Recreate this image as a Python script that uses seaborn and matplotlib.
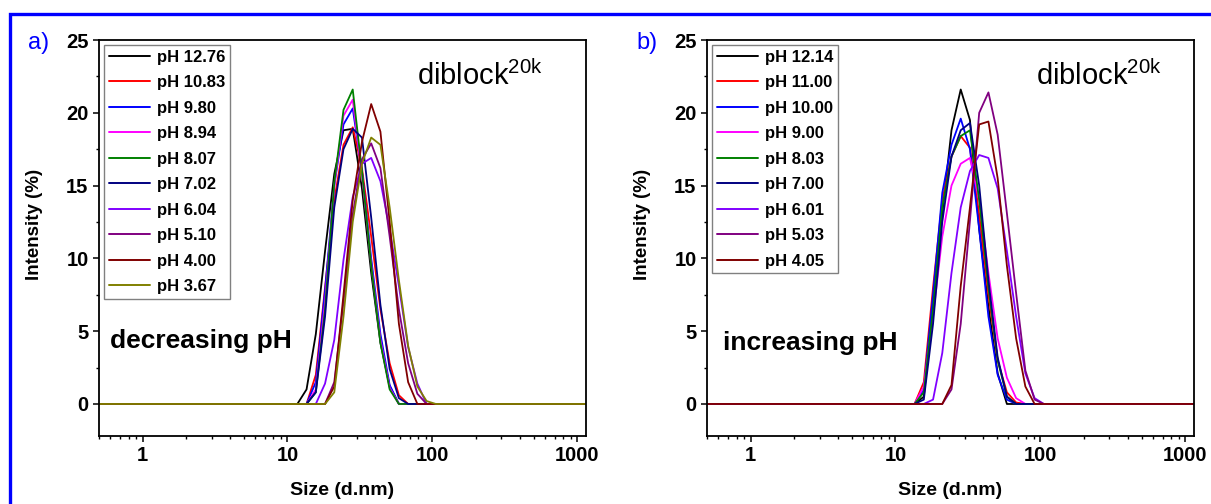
import numpy as np
import pandas as pd
import matplotlib
matplotlib.use("Agg")
import matplotlib.pyplot as plt
import seaborn as sns
from matplotlib.patches import Rectangle
from matplotlib.ticker import FixedLocator, MultipleLocator, NullFormatter

sns.set_theme(style="white")
plt.rcParams["font.family"] = ["Liberation Sans", "DejaVu Sans"]
plt.rcParams["mathtext.fontset"] = "custom"
plt.rcParams["mathtext.rm"] = "Liberation Sans"
plt.rcParams["mathtext.default"] = "regular"
for key in ["text.color", "axes.labelcolor", "xtick.color", "ytick.color",
            "axes.edgecolor"]:
    plt.rcParams[key] = "black"

# Zetasizer size classes (d.nm)
size_bins = [0.4000, 0.4632, 0.5365, 0.6213, 0.7195, 0.8332, 0.9649, 1.117, 1.294,
             1.499, 1.736, 2.010, 2.328, 2.696, 3.122, 3.615, 4.187, 4.849, 5.615,
             6.503, 7.531, 8.721, 10.10, 11.70, 13.54, 15.69, 18.17, 21.04, 24.36,
             28.21, 32.67, 37.84, 43.82, 50.75, 58.77, 68.06, 78.82, 91.28, 105.7,
             122.4, 141.8, 164.2, 190.1, 220.2, 255.0, 295.3, 342.0, 396.1, 458.7,
             531.2, 615.1, 712.4, 825.0, 955.4, 1106, 1281, 1484]
# intensities are listed for classes 11.70 ... 105.7; all other classes are 0
peak_start = 11.70

# a) decreasing pH
ph_a = ["pH 12.76", "pH 10.83", "pH 9.80", "pH 8.94", "pH 8.07",
        "pH 7.02", "pH 6.04", "pH 5.10", "pH 4.00", "pH 3.67"]
a_1276 = [0, 1.0, 4.8, 10.5, 15.8, 18.8, 18.9, 14.8, 9.0, 4.2, 1.2, 0, 0, 0, 0, 0]
a_1083 = [0, 0, 2.0, 8.0, 14.0, 17.8, 19.0, 16.2, 11.5, 6.5, 2.8, 0.6, 0, 0, 0, 0]
a_980 = [0, 0, 1.5, 7.8, 15.0, 19.2, 20.3, 16.0, 10.0, 4.8, 1.3, 0, 0, 0, 0, 0]
a_894 = [0, 0, 1.0, 7.0, 15.0, 19.8, 20.9, 15.8, 9.6, 4.4, 1.1, 0, 0, 0, 0, 0]
a_807 = [0, 0, 0.8, 6.5, 15.2, 20.2, 21.6, 16.0, 9.5, 4.2, 1.0, 0, 0, 0, 0, 0]
a_702 = [0, 0, 0.8, 6.0, 13.5, 17.5, 18.9, 18.3, 12.8, 6.8, 2.4, 0.4, 0, 0, 0, 0]
a_604 = [0, 0, 0, 1.4, 4.4, 9.9, 14.2, 16.5, 16.9, 15.3, 12.0, 8.1, 3.9, 1.4, 0, 0]
a_510 = [0, 0, 0, 0, 1.5, 7.0, 13.0, 16.8, 17.9, 16.2, 11.5, 6.5, 2.8, 0.7, 0, 0]
a_400 = [0, 0, 0, 0, 1.2, 7.5, 14.0, 18.0, 20.6, 18.7, 12.5, 5.5, 1.5, 0, 0, 0]
a_367 = [0, 0, 0, 0, 0.8, 6.0, 12.5, 16.5, 18.3, 17.8, 13.5, 8.5, 4.0, 1.2, 0.2, 0]

# b) increasing pH
ph_b = ["pH 12.14", "pH 11.00", "pH 10.00", "pH 9.00", "pH 8.03",
        "pH 7.00", "pH 6.01", "pH 5.03", "pH 4.05"]
b_1214 = [0, 0, 0.5, 6.7, 13.1, 18.8, 21.6, 19.5, 12.0, 6.7, 2.1, 0, 0, 0, 0, 0]
b_1100 = [0, 0, 1.5, 8.0, 14.0, 17.0, 18.4, 17.6, 13.0, 7.5, 3.0, 0.8, 0.1, 0, 0, 0]
b_1000 = [0, 0, 1.0, 7.5, 14.5, 17.8, 19.6, 17.5, 12.0, 6.0, 2.0, 0.3, 0, 0, 0, 0]
b_900 = [0, 0, 1.2, 6.0, 11.5, 15.0, 16.5, 16.9, 14.0, 9.0, 4.5, 1.8, 0.4, 0, 0, 0]
b_803 = [0, 0, 0.8, 6.5, 13.5, 17.0, 18.4, 18.8, 14.0, 8.0, 3.0, 0.5, 0, 0, 0, 0]
b_700 = [0, 0, 0.3, 5.5, 12.5, 17.0, 18.8, 19.3, 15.0, 8.5, 3.2, 0.5, 0, 0, 0, 0]
b_601 = [0, 0, 0, 0.3, 3.5, 9.0, 13.5, 16.0, 17.1, 16.9, 14.8, 10.5, 6.0, 2.1, 0.4, 0]
b_503 = [0, 0, 0, 0, 0, 1.0, 5.5, 12.6, 20.0, 21.4, 18.5, 13.1, 7.6, 2.3, 0.3, 0]
b_405 = [0, 0, 0, 0, 0, 1.3, 8.1, 13.5, 19.2, 19.4, 15.5, 9.5, 4.5, 1.2, 0, 0]

colors = ["#000000", "#ff0000", "#0000ff", "#ff00ff", "#008000",
          "#000080", "#8000ff", "#800080", "#800000", "#808000"]

ticks_x = [1, 10, 100, 1000]
ticks_y = [0, 5, 10, 15, 20, 25]


def full_curve(window):
    vals = np.zeros(len(size_bins))
    i0 = size_bins.index(peak_start)
    vals[i0:i0 + len(window)] = window
    return vals


def long_table(labels, series):
    frames = []
    for lab, ser in zip(labels, series):
        frames.append(pd.DataFrame({"size": size_bins,
                                    "intensity": full_curve(ser),
                                    "sample": lab}))
    return pd.concat(frames, ignore_index=True)


def draw_panel(ax, labels, series, note, xtag):
    df = long_table(labels, series)
    sns.lineplot(data=df, x="size", y="intensity", hue="sample",
                 palette=colors[:len(labels)], hue_order=labels,
                 estimator=None, sort=False, lw=1.3, ax=ax)
    ax.set_xscale("log")
    ax.set_xlim(0.5, 1150)
    ax.set_ylim(-2.2, 25)
    ax.xaxis.set_major_locator(FixedLocator(ticks_x))
    ax.set_xticklabels([str(t) for t in ticks_x])
    minors = [m * 10.0 ** e for e in range(-1, 4) for m in range(2, 10)]
    ax.xaxis.set_minor_locator(FixedLocator(minors))
    ax.xaxis.set_minor_formatter(NullFormatter())
    ax.yaxis.set_major_locator(FixedLocator(ticks_y))
    ax.yaxis.set_minor_locator(MultipleLocator(2.5))
    ax.tick_params(which="major", direction="out", length=4.5, width=1.1,
                   labelsize=14.5, pad=3, bottom=True, left=True)
    ax.tick_params(which="minor", direction="out", length=2.5, width=1.0,
                   bottom=True, left=True)
    for lab in ax.get_xticklabels() + ax.get_yticklabels():
        lab.set_fontweight("bold")
    for sp in ax.spines.values():
        sp.set_linewidth(1.3)
        sp.set_color("black")
    ax.set_xlabel("Size (d.nm)", fontsize=14, fontweight="bold")
    ax.set_ylabel("Intensity (%)", fontsize=13.5, fontweight="bold")
    ax.xaxis.set_label_coords(0.5, -0.116)
    ax.yaxis.set_label_coords(-0.115, 0.535)
    leg = ax.legend(loc="upper left", frameon=True, fancybox=False,
                    edgecolor="#808080", framealpha=1, borderaxespad=0.3,
                    handlelength=2.5, handletextpad=0.4, labelspacing=0.63,
                    borderpad=0.28, prop={"weight": "bold", "size": 12})
    leg.get_frame().set_linewidth(1.0)
    for line in leg.get_lines():
        line.set_linewidth(1.4)
    ax.text(note[0], note[1], note[2], transform=ax.transAxes, va="center",
            ha="left", fontsize=19, fontweight="bold")
    ax.text(xtag, 0.91, r"diblock$^{20k}$", transform=ax.transAxes,
            va="center", ha="left", fontsize=21)


fig = plt.figure(figsize=(12.11, 5.04), dpi=100)
fig.patch.set_facecolor("white")
ax_a = fig.add_axes([99 / 1211, 1 - 436 / 504, 487 / 1211, 396 / 504])
ax_b = fig.add_axes([707 / 1211, 1 - 436 / 504, 487 / 1211, 396 / 504])

draw_panel(ax_a, ph_a, [a_1276, a_1083, a_980, a_894, a_807,
                        a_702, a_604, a_510, a_400, a_367],
           (0.023, 0.24, "decreasing pH"), 0.653)
draw_panel(ax_b, ph_b, [b_1214, b_1100, b_1000, b_900, b_803,
                        b_700, b_601, b_503, b_405],
           (0.033, 0.235, "increasing pH"), 0.676)

fig.text(28 / 1211, 1 - 43 / 504, "a)", color="#0000ff", fontsize=17,
         va="center", ha="left")
fig.text(636 / 1211, 1 - 43 / 504, "b)", color="#0000ff", fontsize=17,
         va="center", ha="left")

# blue frame around the figure
fig.add_artist(Rectangle((10.5 / 1211, -0.05), 1.2, 1 - 13.5 / 504 + 0.05,
                         transform=fig.transFigure, fill=False,
                         edgecolor="#0000ff", linewidth=2.4))

fig.savefig("out.png", dpi=100)
